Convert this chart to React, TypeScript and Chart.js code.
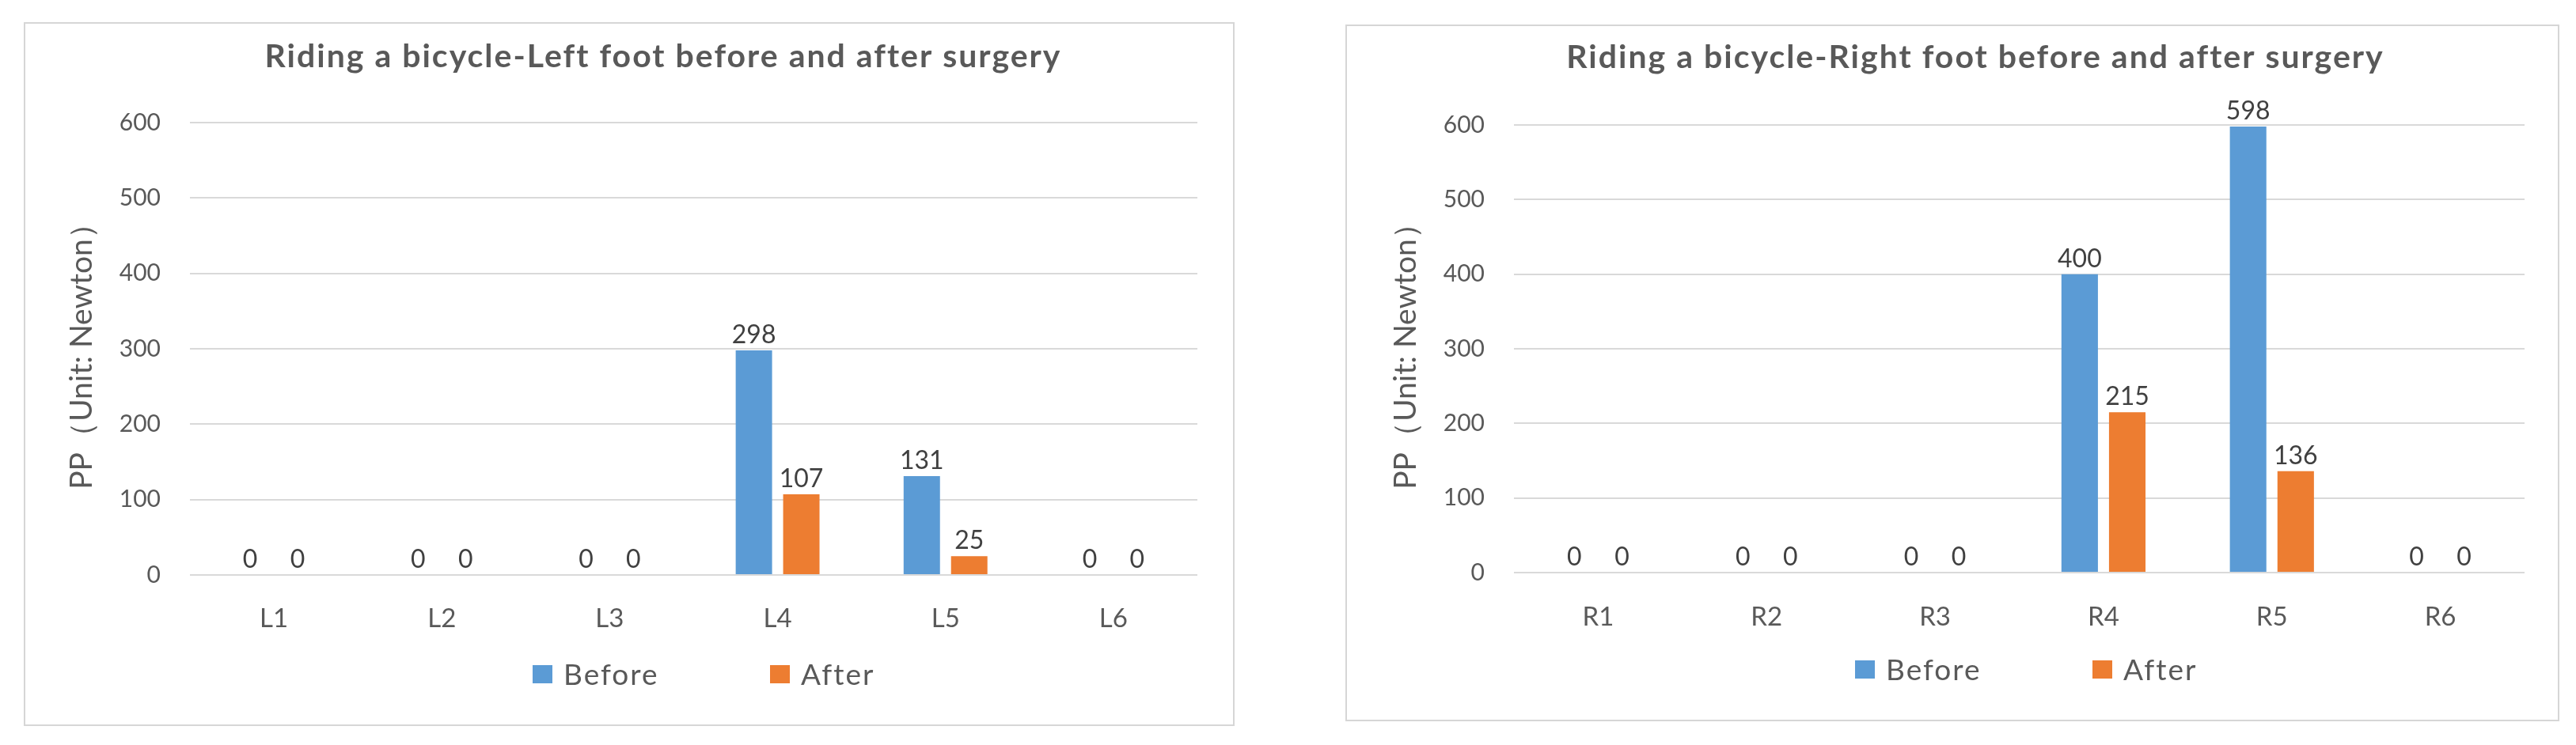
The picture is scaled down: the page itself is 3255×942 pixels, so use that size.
import React, { useEffect, useRef } from "react";
import { Chart, registerables } from "chart.js";

Chart.register(...registerables);

// ---------- data ----------
const leftCategories = ["L1", "L2", "L3", "L4", "L5", "L6"];
const leftBefore = [0, 0, 0, 298, 131, 0];
const leftAfter = [0, 0, 0, 107, 25, 0];

const rightCategories = ["R1", "R2", "R3", "R4", "R5", "R6"];
const rightBefore = [0, 0, 0, 400, 598, 0];
const rightAfter = [0, 0, 0, 215, 136, 0];

const seriesNames = ["Before", "After"];
const yTicks = [0, 100, 200, 300, 400, 500, 600];
const leftTitle = "Riding a bicycle-Left foot before and after surgery";
const rightTitle = "Riding a bicycle-Right foot before and after surgery";
const yAxisTitle = "PP（Unit: Newton）";

// ---------- styles ----------
const BLUE = "#5B9BD5";
const ORANGE = "#ED7D31";
const GRID = "#D9D9D9";
const TEXT = "#595959";
const LABEL = "#404040";
const FONT = "Lato, 'Open Sans', sans-serif";

type Panel = {
  box: { x: number; y: number; w: number; h: number };
  categories: string[];
  before: number[];
  after: number[];
  title: string;
  pad: { left: number; right: number; top: number; bottom: number };
  yAxisWidth: number;
  yTitlePad: number;
  xAxisHeight: number;
  xTickPad: number;
  titleCX: number;
  titleBaseY: number;
  legendX: number;
  legendBaseY: number;
};

const panels: Panel[] = [
  {
    box: { x: 30, y: 28, w: 1530, h: 890 },
    categories: leftCategories,
    before: leftBefore,
    after: leftAfter,
    title: leftTitle,
    pad: { left: 20, right: 47, top: 127, bottom: 91 },
    yAxisWidth: 190,
    yTitlePad: 30,
    xAxisHeight: 100,
    xTickPad: 28,
    titleCX: 808,
    titleBaseY: 57,
    legendX: 643,
    legendBaseY: 838,
  },
  {
    box: { x: 1700, y: 31, w: 1534, h: 881 },
    categories: rightCategories,
    before: rightBefore,
    after: rightAfter,
    title: rightTitle,
    pad: { left: 20, right: 44, top: 127, bottom: 88 },
    yAxisWidth: 193,
    yTitlePad: 33,
    xAxisHeight: 100,
    xTickPad: 29,
    titleCX: 796,
    titleBaseY: 55,
    legendX: 644,
    legendBaseY: 829,
  },
];

// custom plugin: chart title, legend and value labels
const decoPlugin = {
  id: "deco",
  afterDatasetsDraw(chart: any) {
    const ctx = chart.ctx;
    ctx.save();
    ctx.font = `32px ${FONT}`;
    ctx.fillStyle = LABEL;
    ctx.textAlign = "center";
    ctx.textBaseline = "alphabetic";
    chart.data.datasets.forEach((ds: any, i: number) => {
      const meta = chart.getDatasetMeta(i);
      meta.data.forEach((bar: any, j: number) => {
        ctx.fillText(String(ds.data[j]), bar.x, bar.y - 9);
      });
    });
    ctx.restore();
  },
  afterDraw(chart: any, _args: any, opts: any) {
    const ctx = chart.ctx;
    ctx.save();
    // title
    ctx.font = `bold 41px ${FONT}`;
    (ctx as any).letterSpacing = "2px";
    ctx.fillStyle = TEXT;
    ctx.textAlign = "center";
    ctx.textBaseline = "alphabetic";
    ctx.fillText(opts.title, opts.titleCX, opts.titleBaseY);
    // legend
    ctx.font = `37px ${FONT}`;
    (ctx as any).letterSpacing = "2px";
    ctx.textAlign = "left";
    chart.data.datasets.forEach((ds: any, i: number) => {
      const x = opts.legendX + i * 300;
      ctx.fillStyle = ds.backgroundColor;
      ctx.fillRect(x, opts.legendBaseY - 25, 25, 23);
      ctx.fillStyle = TEXT;
      ctx.fillText(ds.label, x + 25 + 14, opts.legendBaseY);
    });
    (ctx as any).letterSpacing = "0px";
    ctx.restore();
  },
};

function ChartPanel({ p }: { p: Panel }) {
  const ref = useRef<HTMLCanvasElement>(null);
  useEffect(() => {
    const chart = new Chart(ref.current as HTMLCanvasElement, {
      type: "bar",
      data: {
        labels: p.categories,
        datasets: [
          { label: seriesNames[0], data: p.before, backgroundColor: BLUE, borderWidth: 0 },
          { label: seriesNames[1], data: p.after, backgroundColor: ORANGE, borderWidth: 0 },
        ],
      },
      options: {
        responsive: false,
        animation: false,
        devicePixelRatio: 1,
        layout: { padding: p.pad },
        datasets: { bar: { categoryPercentage: 0.565, barPercentage: 0.767 } },
        plugins: {
          legend: { display: false },
          title: { display: false },
          tooltip: { enabled: false },
          deco: {
            title: p.title,
            titleCX: p.titleCX,
            titleBaseY: p.titleBaseY,
            legendX: p.legendX,
            legendBaseY: p.legendBaseY,
          },
        } as any,
        scales: {
          x: {
            grid: { display: false },
            border: { display: false },
            ticks: { color: TEXT, font: { family: FONT, size: 33 }, padding: p.xTickPad },
            afterFit: (s: any) => {
              s.height = p.xAxisHeight;
            },
          },
          y: {
            min: 0,
            max: 600,
            afterBuildTicks: (s: any) => {
              s.ticks = yTicks.map((v) => ({ value: v }));
            },
            ticks: { color: TEXT, font: { family: FONT, size: 30 }, padding: 37 },
            grid: { color: GRID, lineWidth: 2, drawTicks: false },
            border: { display: false },
            title: {
              display: true,
              text: yAxisTitle,
              color: TEXT,
              font: { family: FONT, size: 39, lineHeight: 1.2 },
              padding: { top: p.yTitlePad, bottom: 0 },
            },
            afterFit: (s: any) => {
              s.width = p.yAxisWidth;
            },
          },
        },
      } as any,
      plugins: [decoPlugin],
    });
    return () => chart.destroy();
  }, []);
  return (
    <div
      style={{
        position: "absolute",
        left: p.box.x,
        top: p.box.y,
        width: p.box.w,
        height: p.box.h,
      }}
    >
      <canvas
        ref={ref}
        width={p.box.w}
        height={p.box.h}
        style={{ position: "absolute", left: 0, top: 0, width: p.box.w, height: p.box.h }}
      />
      <div
        style={{
          position: "absolute",
          left: 0,
          top: 0,
          width: p.box.w,
          height: p.box.h,
          border: "2px solid #D6D6D6",
          boxSizing: "border-box",
          pointerEvents: "none",
        }}
      />
    </div>
  );
}

export default function App() {
  return (
    <div
      style={{
        position: "absolute",
        left: 0,
        top: 0,
        width: 3255,
        height: 942,
        background: "#FFFFFF",
        overflow: "hidden",
      }}
    >
      {panels.map((p, i) => (
        <ChartPanel key={i} p={p} />
      ))}
    </div>
  );
}
